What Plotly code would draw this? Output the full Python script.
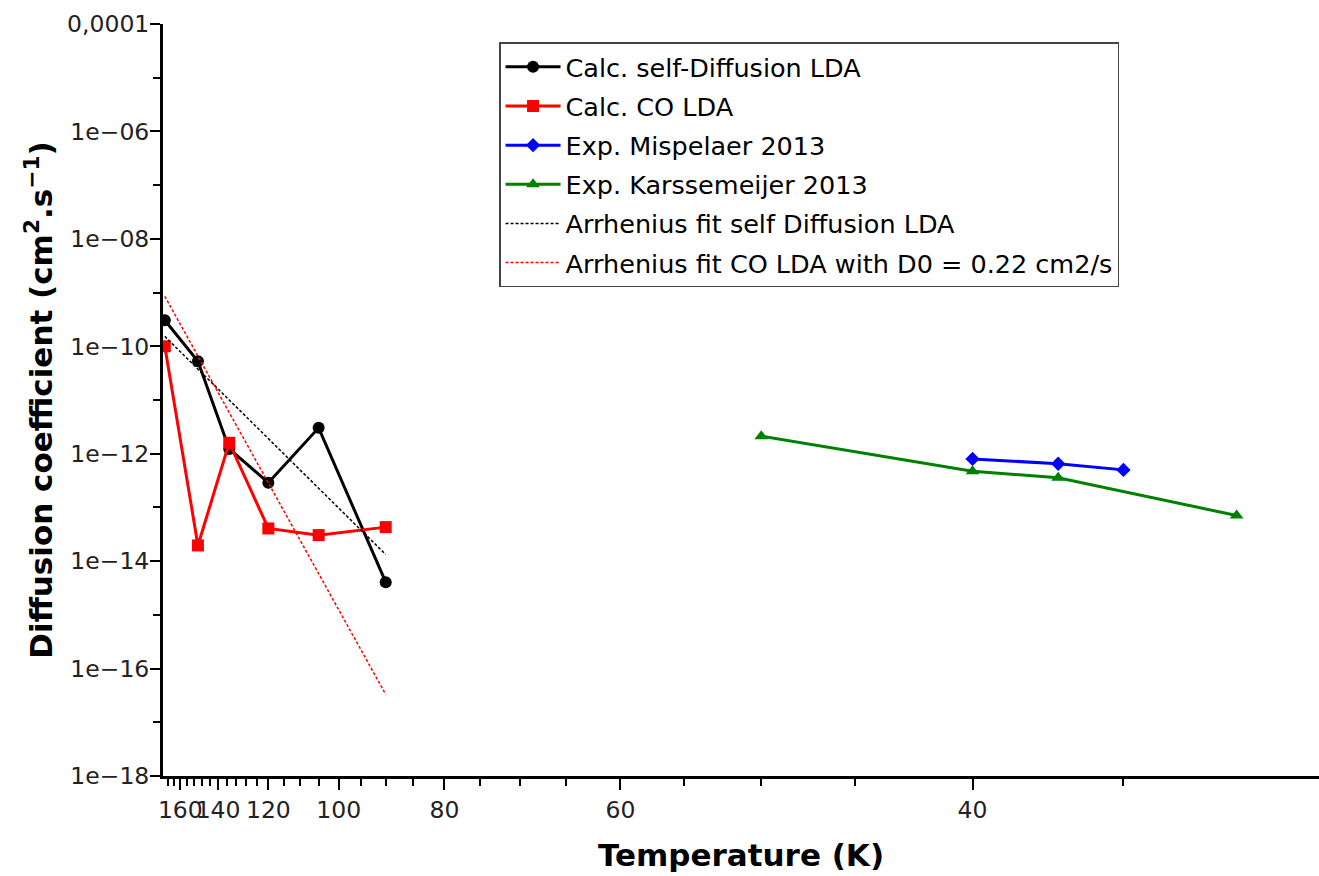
import plotly.graph_objects as go

# ---------------- data ----------------
temps_calc = [170, 150, 135, 120, 105, 90]
d_self = [3.05e-10, 5.26e-11, 1.23e-12, 2.88e-13, 3.03e-12, 4.06e-15]
d_co = [1.0e-10, 1.96e-14, 1.60e-12, 4.06e-14, 3.05e-14, 4.30e-14]

temps_misp = [40, 37, 35]
d_misp = [8.0e-13, 6.5e-13, 5.0e-13]

temps_kars = [50, 40, 37, 32]
d_kars = [2.12e-12, 4.72e-13, 3.56e-13, 7.08e-14]

temps_fit = [170, 90]
fit_self = [1.53e-10, 1.33e-14]
fit_co = [8.5e-10, 3.3e-17]

x_tick_temps = [160, 140, 120, 100, 80, 60, 40]
x_minor_temps = [168, 164, 156, 152, 148, 144, 136, 132, 128, 124,
                 115, 110, 105, 95, 90, 85, 75, 70, 65, 55, 50, 45, 35]
y_tick_vals = [1e-4, 1e-6, 1e-8, 1e-10, 1e-12, 1e-14, 1e-16, 1e-18]
y_tick_text = ["0,0001", "1e\u221206", "1e\u221208", "1e\u221210", "1e\u221212",
               "1e\u221214", "1e\u221216", "1e\u221218"]
y_minor_vals = [1e-5, 1e-7, 1e-9, 1e-11, 1e-13, 1e-15, 1e-17]


def inv(ts):
    return [1000.0 / t for t in ts]


FONT = "DejaVu Sans"

fig = go.Figure()

fig.add_trace(go.Scatter(
    x=inv(temps_calc), y=d_self, mode="lines+markers",
    name="Calc. self-Diffusion LDA", legendgroup="a",
    line=dict(color="black", width=3),
    marker=dict(symbol="circle", size=12, color="black"),
))
fig.add_trace(go.Scatter(
    x=inv(temps_calc), y=d_co, mode="lines+markers",
    name="Calc. CO LDA", legendgroup="b",
    line=dict(color="#ff0000", width=3),
    marker=dict(symbol="square", size=12, color="#ff0000"),
))
fig.add_trace(go.Scatter(
    x=inv(temps_misp), y=d_misp, mode="lines+markers",
    name="Exp. Mispelaer 2013", legendgroup="c",
    line=dict(color="#0000ff", width=3),
    marker=dict(symbol="diamond", size=11, color="#0000ff"),
))
fig.add_trace(go.Scatter(
    x=inv(temps_kars), y=d_kars, mode="lines+markers",
    name="Exp. Karssemeijer 2013", legendgroup="d",
    line=dict(color="#008000", width=3),
    marker=dict(symbol="triangle-up", size=12, color="#008000"),
))
fig.add_trace(go.Scatter(
    x=inv(temps_fit), y=fit_self, mode="lines",
    name="Arrhenius fit self Diffusion LDA", legendgroup="e",
    line=dict(color="black", width=1.5, dash="3px,2px"),
))
fig.add_trace(go.Scatter(
    x=inv(temps_fit), y=fit_co, mode="lines",
    name="Arrhenius fit CO LDA with D0 = 0.22 cm2/s", legendgroup="f",
    line=dict(color="#ff0000", width=1.5, dash="3px,2px"),
))

fig.update_layout(
    width=1319, height=876,
    margin=dict(l=163, r=0, t=24, b=99.5, autoexpand=False),
    paper_bgcolor="white", plot_bgcolor="white",
    font=dict(family=FONT, color="black", size=20),
    showlegend=True,
    legend=dict(
        x=0.2907, y=0.9757, xanchor="left", yanchor="top",
        bgcolor="white", bordercolor="#444", borderwidth=1.5,
        font=dict(family=FONT, size=25.5, color="black"),
        tracegroupgap=3, itemwidth=55,
    ),
)

fig.update_xaxes(
    range=[5.84, 33.2], automargin=False,
    showgrid=False, zeroline=False,
    showline=True, linecolor="black", linewidth=3,
    ticks="outside", ticklen=11, tickwidth=2, tickcolor="black",
    tickmode="array", tickvals=inv(x_tick_temps),
    ticktext=[str(t) for t in x_tick_temps], tickangle=0,
    tickfont=dict(family=FONT, size=23.5, color="#222"),
    minor=dict(tickmode="array", tickvals=inv(x_minor_temps),
               ticks="outside", ticklen=7, tickwidth=2, tickcolor="black"),
    title=dict(text="<b>Temperature (K)</b>",
               font=dict(family=FONT, size=31, color="black"), standoff=22),
)

fig.update_yaxes(
    type="log", range=[-18, -4], automargin=False,
    showgrid=False, zeroline=False,
    showline=True, linecolor="black", linewidth=3,
    ticks="outside", ticklen=10, tickwidth=2, tickcolor="black",
    tickmode="array", tickvals=y_tick_vals, ticktext=y_tick_text,
    tickfont=dict(family=FONT, size=23.5, color="#222"),
    ticklabelstandoff=-4,
    minor=dict(tickmode="array", tickvals=y_minor_vals,
               ticks="outside", ticklen=7, tickwidth=2, tickcolor="black"),
    title=dict(text="<b>Diffusion coefficient (cm<sup>2</sup>.s<sup>\u22121</sup>)</b>",
               font=dict(family=FONT, size=31, color="black"), standoff=6),
)

fig.write_html(
    "out.html",
    config={"displayModeBar": False},
    post_script="document.body.style.margin='0';document.body.style.overflow='hidden';",
)
